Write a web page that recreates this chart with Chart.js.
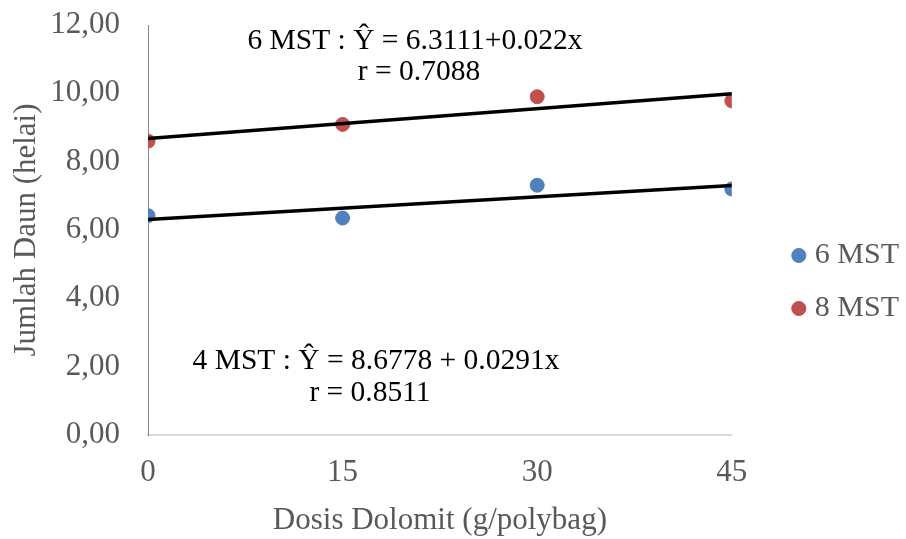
<!DOCTYPE html>
<html>
<head>
<meta charset="utf-8">
<script src="https://cdn.jsdelivr.net/npm/chart.js@4.4.0/dist/chart.umd.min.js"></script>
<style>
  html, body { margin: 0; padding: 0; background: #fff; }
</style>
</head>
<body>
<canvas id="c" width="906" height="539"></canvas>
<script>
'use strict'

// dosis dolomit (g/polybag) and leaf counts
const doses = [0, 15, 30, 45];
const daun6 = [6.42, 6.35, 7.31, 7.20];
const daun8 = [8.60, 9.09, 9.90, 9.78];

// trend line ends, at x = 0 and x = 45
const trendX = [0, 45];
const trend6 = [6.31, 7.30];
const trend8 = [8.68, 9.99];

const xTicks = [0, 15, 30, 45];
const yTicks = [0, 2, 4, 6, 8, 10, 12];
const yTickLabels = ['0,00', '2,00', '4,00', '6,00', '8,00', '10,00', '12,00'];

const serif = '"Liberation Serif", "Times New Roman", serif';
const grey = '#595959';
const font = { family: serif, size: 31 };

const pairs = (xs, ys) => xs.map((x, i) => ({ x: x, y: ys[i] }));

// regression notes written on the plot (text only)
const notesPlugin = {
  id: 'notes',
  afterDraw(chart) {
    const ctx = chart.ctx;
    ctx.save();
    ctx.fillStyle = '#000';
    ctx.font = '29.5px ' + serif;
    ctx.textAlign = 'center';
    ctx.textBaseline = 'middle';
    ctx.fillText('6 MST : \u0176 = 6.3111+0.022x', 415, 41);
    ctx.fillText('r = 0.7088', 419, 72);
    ctx.fillText('4 MST : \u0176 = 8.6778 + 0.0291x', 376, 361);
    ctx.fillText('r = 0.8511', 370, 393);
    ctx.restore();
  }
};

new Chart(document.getElementById('c'), {
  type: 'scatter',
  data: {
    datasets: [
      { label: '6 MST', data: pairs(doses, daun6), backgroundColor: '#4F81BD', borderColor: '#4F81BD',
        pointRadius: 7, pointHoverRadius: 7, order: 1 },
      { label: '8 MST', data: pairs(doses, daun8), backgroundColor: '#C0504D', borderColor: '#C0504D',
        pointRadius: 7, pointHoverRadius: 7, order: 1 },
      { label: 'trend6', type: 'line', showLine: true, data: pairs(trendX, trend6), borderColor: '#000',
        borderWidth: 3.5, pointRadius: 0, fill: false, order: 0 },
      { label: 'trend8', type: 'line', showLine: true, data: pairs(trendX, trend8), borderColor: '#000',
        borderWidth: 3.5, pointRadius: 0, fill: false, order: 0 }
    ]
  },
  options: {
    responsive: false,
    animation: false,
    events: [],
    layout: { padding: { top: 25, left: 8, right: -3, bottom: 0 } },
    plugins: {
      legend: {
        position: 'right',
        labels: {
          filter: item => !item.text.startsWith('trend'),
          usePointStyle: true,
          pointStyle: 'circle',
          boxWidth: 2,
          boxHeight: 10,
          padding: 23,
          color: grey,
          font: { family: serif, size: 30 }
        }
      },
      tooltip: { enabled: false }
    },
    scales: {
      x: {
        type: 'linear',
        min: 0,
        max: 45,
        afterBuildTicks: s => { s.ticks = xTicks.map(v => ({ value: v })); },
        afterFit: s => { s.height = 104; },
        grid: { display: false, drawTicks: false },
        border: { color: '#d9d9d9', width: 2 },
        ticks: { color: grey, font: font, padding: 19 },
        title: { display: true, text: 'Dosis Dolomit (g/polybag)', color: grey, font: font,
          padding: { top: 0, bottom: 0 } }
      },
      y: {
        type: 'linear',
        min: 0,
        max: 12,
        afterBuildTicks: s => { s.ticks = yTicks.map(v => ({ value: v })); },
        afterFit: s => { s.width = 140; s.paddingTop = 0; s.paddingBottom = 0; },
        grid: { display: false, drawTicks: false },
        border: { color: '#868686', width: 1 },
        ticks: { color: grey, font: font, padding: 28, callback: v => yTickLabels[yTicks.indexOf(v)] },
        title: { display: true, text: 'Jumlah Daun (helai)', color: grey, font: font,
          padding: { top: 0, bottom: 0 } }
      },
      // empty right-hand strip between plot and legend
      gap: {
        type: 'linear',
        position: 'right',
        afterFit: s => { s.width = 43; },
        ticks: { display: false },
        grid: { display: false, drawTicks: false },
        border: { display: false }
      }
    }
  },
  plugins: [notesPlugin]
});
</script>
</body>
</html>
